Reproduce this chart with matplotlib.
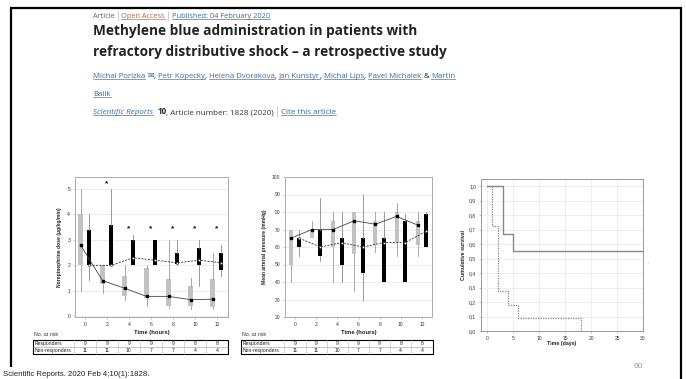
import numpy as np
import matplotlib
matplotlib.use("Agg")
import matplotlib.pyplot as plt

W, H = 686, 379

# ---- data ----
times = [0, 2, 4, 6, 8, 10, 12]

# norepinephrine dose, responders (grey boxes, solid median line)
ne_resp_lo = [1.0, 0.9, 0.63, 0.4, 0.33, 0.3, 0.27]
ne_resp_q1 = [2.0, 1.25, 0.8, 0.7, 0.4, 0.42, 0.37]
ne_resp_med = [2.8, 1.4, 1.1, 0.78, 0.78, 0.65, 0.67]
ne_resp_q3 = [4.0, 2.0, 1.57, 1.9, 1.47, 1.18, 1.47]
ne_resp_hi = [5.0, 2.0, 2.0, 2.0, 3.0, 1.5, 2.5]

# norepinephrine dose, non-responders (black boxes, dashed median line)
ne_non_lo = [1.44, 2.0, 2.0, 2.0, 2.0, 1.2, 1.6]
ne_non_q1 = [2.0, 2.0, 2.0, 2.0, 2.05, 2.0, 1.8]
ne_non_med = [2.0, 2.0, 2.3, 2.2, 2.1, 2.2, 2.1]
ne_non_q3 = [3.4, 3.6, 3.0, 3.0, 2.5, 2.7, 2.5]
ne_non_hi = [4.0, 5.0, 3.2, 3.0, 3.0, 3.0, 2.8]

star_times = [2, 4, 6, 8, 10, 12]
star_y = [5.2, 3.45, 3.45, 3.45, 3.45, 3.45]

# mean arterial pressure
map_resp_lo = [40, 65, 40, 35, 57, 55, 55]
map_resp_q1 = [50, 65, 60, 56, 61, 63, 61]
map_resp_med = [65, 70, 70, 75, 73, 77.5, 72.5]
map_resp_q3 = [70, 70, 75, 80, 75, 80, 75]
map_resp_hi = [70, 75, 80, 80, 80, 85, 80]

map_non_lo = [55, 52, 40, 30, 40, 40, 60]
map_non_q1 = [60, 55, 50, 45, 40, 40, 60]
map_non_med = [65, 60, 62.5, 60, 62.5, 62.5, 69]
map_non_q3 = [65, 70, 65, 65, 65, 75, 79]
map_non_hi = [70, 88, 80, 90, 80, 79, 80]

at_risk_resp = [9, 9, 9, 9, 9, 8, 8]
at_risk_non = [11, 11, 10, 7, 7, 4, 4]

# survival
surv_resp_t = [0, 3, 5, 30]
surv_resp = [1.0, 0.667, 0.556, 0.556]
surv_non_t = [0, 1, 2, 4, 6, 18]
surv_non = [1.0, 0.727, 0.273, 0.182, 0.091, 0.0]

# ---- figure ----
fig = plt.figure(figsize=(W / 100, H / 100), dpi=100)
fig.patch.set_facecolor("white")
R = fig.canvas.get_renderer()

ov = fig.add_axes([0, 0, 1, 1], zorder=0)
ov.set_xlim(0, W)
ov.set_ylim(H, 0)
ov.axis("off")

HEAD = ["Open Sans", "DejaVu Sans"]
SYM = ["DejaVu Sans"]
CH = "Liberation Sans"
BL = "#2f6cae"
OR = "#c45a3c"
INK = "#222222"
GR = "#666666"


def pbox(x0, y0, x1, y1):
    return [x0 / W, 1 - y1 / H, (x1 - x0) / W, (y1 - y0) / H]


def line(x, y, runs, right=None, size=10.0):
    def lay(sz):
        px = sz * 100 / 72
        cx = x
        arts = []
        for it in runs:
            if isinstance(it, float):
                cx += it * px
                continue
            if it == "|":
                arts.append(ov.plot([cx + 0.45 * px] * 2, [y - 0.95 * px, y + 0.25 * px],
                                    color="#bbbbbb", lw=0.5)[0])
                cx += 0.9 * px
                continue
            s, c, fl = it
            t = ov.text(cx, y, s, fontsize=sz, color=c,
                        family=SYM if "s" in fl else HEAD,
                        fontweight="bold" if "b" in fl else "normal",
                        fontstyle="italic" if "i" in fl else "normal",
                        va="baseline", ha="left")
            w = t.get_window_extent(renderer=R).width
            arts.append(t)
            if "u" in fl:
                arts.append(ov.plot([cx, cx + w], [y + 0.16 * px] * 2, color=c, lw=0.45)[0])
            cx += w
        return cx, arts

    if right is None:
        lay(size)
        return size
    end, arts = lay(size)
    for a in arts:
        a.remove()
    size = size * (right - x) / (end - x)
    lay(size)
    return size


# slide frame
ov.plot([11, 11], [8, 367], color="black", lw=1.6, solid_capstyle="butt")
ov.plot([10.4, 681], [8, 8], color="black", lw=1.6, solid_capstyle="butt")
ov.plot([681, 681], [7.4, H], color="black", lw=1.6, solid_capstyle="butt")

# article header
line(93, 18, [("Article", GR, ""), "|", ("Open Access", OR, "u"), "|",
              ("Published: 04 February 2020", BL, "u")], right=270)
ts = line(93, 35, [("Methylene blue administration in patients with", INK, "b")], right=418)
line(93, 56, [("refractory distributive shock \u2013 a retrospective study", INK, "b")], size=ts)
sp = 0.27
asz = line(93, 78, [("Michal Porizka", BL, "u"), sp, ("\u2709", BL, "s"), (",", INK, ""), sp,
                    ("Petr Kopecky", BL, "u"), (",", INK, ""), sp,
                    ("Helena Dvorakova", BL, "u"), (",", INK, ""), sp,
                    ("Jan Kunstyr", BL, "u"), (",", INK, ""), sp,
                    ("Michal Lips", BL, "u"), (",", INK, ""), sp,
                    ("Pavel Michalek", BL, "u"), sp, ("&", INK, ""), sp,
                    ("Martin", BL, "u")], right=457)
line(93, 96, [("Balik", BL, "u")], size=asz)
line(93, 114, [("Scientific Reports", BL, "iu"), 0.5, ("10", INK, "b"),
               (", Article number: 1828 (2020)", "#333333", ""), "|",
               ("Cite this article", BL, "u")], right=335)

ov.text(3, 376, "Scientific Reports. 2020 Feb 4;10(1):1828.", fontsize=5.6, family=CH,
        color="#222222", va="baseline", ha="left")
ov.text(638, 367, "60", fontsize=6, family=CH, color="#9a9a9a", ha="center", va="center")
ov.text(648, 262, ":", fontsize=4, family=CH, color="#888888", ha="center", va="center")

TS = 3.6  # tick label size


def style(ax, spine="#aaaaaa"):
    for s in ax.spines.values():
        s.set_color(spine)
        s.set_linewidth(0.7)
    ax.tick_params(labelsize=TS, length=1.5, width=0.4, color="#999999",
                   labelcolor="#333333", pad=2)
    for lab in ax.get_xticklabels() + ax.get_yticklabels():
        lab.set_family(CH)


def boxes(ax, pos, lo, q1, med, q3, hi, fc, wc):
    stats = [dict(whislo=a, q1=b, med=c, q3=d, whishi=e, fliers=[])
             for a, b, c, d, e in zip(lo, q1, med, q3, hi)]
    ax.bxp(stats, positions=pos, widths=0.38, patch_artist=True, showcaps=False,
           showfliers=False, manage_ticks=False,
           boxprops=dict(facecolor=fc, edgecolor="none"),
           whiskerprops=dict(color=wc, lw=0.6), medianprops=dict(lw=0))


def risk_table(ax, left, top, mid, bot, label_x):
    centers = [ax.transData.transform((t, 0))[0] for t in times]
    half = (centers[1] - centers[0]) / 2
    right = centers[-1] + half
    ov.text(label_x, 335, "No. at risk", fontsize=3.8, family=CH, color="#333333",
            va="center", ha="left")
    for xb in [centers[0] - half] + [c + half for c in centers[:-1]]:
        ov.plot([xb, xb], [top, bot], color="#bbbbbb", lw=0.4)
    ov.plot([left, right], [mid, mid], color="#999999", lw=0.4)
    ov.add_patch(plt.Rectangle((left, top), right - left, bot - top, fill=False,
                               edgecolor="black", lw=0.8))
    for row, name, yv in [(at_risk_resp, "Responders", (top + mid) / 2),
                          (at_risk_non, "Non-responders", (mid + bot) / 2)]:
        ov.text(left + 1.5, yv, name, fontsize=3.6, family=CH, color="#222222",
                va="center", ha="left")
        for c, n in zip(centers, row):
            ov.text(c, yv, str(n), fontsize=3.6, family=CH, color="#222222",
                    va="center", ha="center")


t_arr = np.array(times, dtype=float)

# ---- chart 1: norepinephrine dose ----
ax1 = fig.add_axes(pbox(75, 177, 228, 317), zorder=2)
ax1.set_xlim(-0.9, 13.0)
ax1.set_ylim(-0.03, 5.47)
ax1.set_yticks(range(0, 6))
ax1.set_xticks(times)
ax1.yaxis.grid(True, color="#e6e6e6", lw=0.5)
ax1.set_axisbelow(True)
boxes(ax1, t_arr - 0.4, ne_resp_lo, ne_resp_q1, ne_resp_med, ne_resp_q3, ne_resp_hi,
      "#c2c2c2", "#9a9a9a")
boxes(ax1, t_arr + 0.4, ne_non_lo, ne_non_q1, ne_non_med, ne_non_q3, ne_non_hi,
      "black", "#888888")
ax1.plot(t_arr - 0.4, ne_resp_med, "-", color="#444444", lw=0.6, marker="s", ms=1.8,
         mfc="black", mec="black", zorder=5)
ax1.plot(t_arr + 0.4, ne_non_med, color="#333333", lw=0.6, ls=(0, (2.5, 1.5)), marker="o",
         ms=1.6, mfc="white", mec="#333333", mew=0.4, zorder=5)
for st, sy in zip(star_times, star_y):
    ax1.text(st, sy, "*", fontsize=6, fontweight="bold", family=CH, ha="center",
             va="center", color="#111111")
ax1.set_ylabel("Norepinephrine dose (\u00b5g/kg/min)", fontsize=3.6, fontweight="bold",
               family=CH, color="#222222")
ax1.yaxis.set_label_coords(-0.085, 0.5)
ax1.set_xlabel("Time (hours)", fontsize=4.2, fontweight="bold", family=CH, color="#222222")
ax1.xaxis.set_label_coords(0.5, -0.09)
style(ax1)
risk_table(ax1, 33, 340, 347, 354, 34)

# ---- chart 2: mean arterial pressure ----
ax2 = fig.add_axes(pbox(285, 177, 432, 317), zorder=2)
ax2.set_xlim(-0.95, 12.95)
ax2.set_ylim(20, 100)
ax2.set_yticks(range(20, 101, 10))
ax2.set_xticks(times)
ax2.yaxis.grid(True, color="#e6e6e6", lw=0.5)
ax2.set_axisbelow(True)
boxes(ax2, t_arr - 0.4, map_resp_lo, map_resp_q1, map_resp_med, map_resp_q3, map_resp_hi,
      "#c2c2c2", "#9a9a9a")
boxes(ax2, t_arr + 0.4, map_non_lo, map_non_q1, map_non_med, map_non_q3, map_non_hi,
      "black", "#888888")
ax2.plot(t_arr - 0.4, map_resp_med, "-", color="#444444", lw=0.6, marker="s", ms=1.8,
         mfc="black", mec="black", zorder=5)
ax2.plot(t_arr + 0.4, map_non_med, color="#333333", lw=0.6, ls=(0, (2.5, 1.5)), marker="o",
         ms=1.6, mfc="white", mec="#333333", mew=0.4, zorder=5)
ax2.set_ylabel("Mean arterial pressure (mmHg)", fontsize=3.6, fontweight="bold",
               family=CH, color="#222222")
ax2.yaxis.set_label_coords(-0.122, 0.5)
ax2.set_xlabel("Time (hours)", fontsize=4.2, fontweight="bold", family=CH, color="#222222")
ax2.xaxis.set_label_coords(0.5, -0.09)
style(ax2)
risk_table(ax2, 241, 340, 347, 354, 242)

# ---- chart 3: survival ----
ax3 = fig.add_axes(pbox(481, 179, 643, 331), zorder=2)
ax3.set_xlim(-1.2, 30)
ax3.set_ylim(0, 1.05)
ax3.set_xticks(range(0, 31, 5))
yt = np.round(np.arange(0, 1.01, 0.1), 1)
ax3.set_yticks(yt)
ax3.set_yticklabels([f"{v:.1f}".replace(".", ",") for v in yt])
ax3.grid(True, color="#e8e8e8", lw=0.5)
ax3.set_axisbelow(True)
ax3.step(surv_resp_t, surv_resp, where="post", color="#888888", lw=1.0)
ax3.step(surv_non_t, surv_non, where="post", color="#888888", lw=0.9, ls=(0, (1, 1)))
ax3.set_ylabel("Cumulative survival", fontsize=3.8, fontweight="bold", family=CH,
               color="#222222")
ax3.yaxis.set_label_coords(-0.093, 0.5)
ax3.set_xlabel("Time (days)", fontsize=3.8, fontweight="bold", family=CH, color="#222222")
ax3.xaxis.set_label_coords(0.5, -0.065)
style(ax3, spine="#999999")

fig.savefig("out.png", dpi=100)
